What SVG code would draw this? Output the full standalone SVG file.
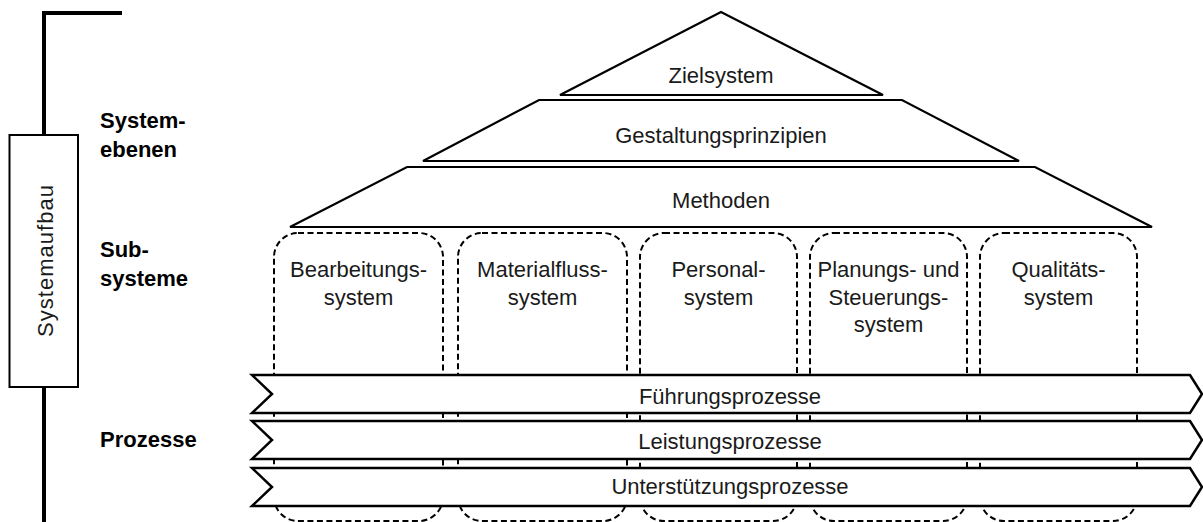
<svg xmlns="http://www.w3.org/2000/svg" width="1203" height="522" viewBox="0 0 1203 522">
  <style>
    .lbl { font-family: "Liberation Sans", Arial, sans-serif; font-size: 22px; fill: #1a1a1a; text-anchor: middle; }
    .side { font-family: "Liberation Sans", Arial, sans-serif; font-size: 22px; font-weight: bold; fill: #000; }
    .layer { fill: #fff; stroke: #000; stroke-width: 2.2; stroke-linejoin: miter; }
    .sub { fill: #fff; stroke: #000; stroke-width: 2; stroke-dasharray: 6 3.5; }
    .band { fill: #fff; stroke: #000; stroke-width: 2.5; stroke-linejoin: miter; }
    .bar { fill: none; stroke: #000; stroke-width: 4; }
  </style>
  <rect width="1203" height="522" fill="#fff"/>

  <!-- Systemebenen: pyramid layers -->
  <g id="zielsystem">
    <polygon class="layer" points="721,12 883,95 560,95"/>
    <text class="lbl" x="721" y="83">Zielsystem</text>
  </g>
  <g id="gestaltungsprinzipien">
    <polygon class="layer" points="539,100 902,100 1019,161 423,161"/>
    <text class="lbl" x="721" y="143">Gestaltungsprinzipien</text>
  </g>
  <g id="methoden">
    <polygon class="layer" points="407,167 1035,167 1152,227 290,227"/>
    <text class="lbl" x="721" y="208">Methoden</text>
  </g>

  <!-- Subsysteme: dashed columns running behind the process bands -->
  <g id="bearbeitungssystem">
    <rect class="sub" x="274" y="233" width="169" height="288" rx="24" ry="24"/>
    <text class="lbl" x="358.5" y="277">Bearbeitungs-</text>
    <text class="lbl" x="358.5" y="304.5">system</text>
  </g>
  <g id="materialflusssystem">
    <rect class="sub" x="458" y="233" width="169" height="288" rx="24" ry="24"/>
    <text class="lbl" x="542.5" y="277">Materialfluss-</text>
    <text class="lbl" x="542.5" y="304.5">system</text>
  </g>
  <g id="personalsystem">
    <rect class="sub" x="640" y="233" width="157" height="288" rx="24" ry="24"/>
    <text class="lbl" x="718.5" y="277">Personal-</text>
    <text class="lbl" x="718.5" y="304.5">system</text>
  </g>
  <g id="planungssystem">
    <rect class="sub" x="810" y="233" width="157" height="288" rx="24" ry="24"/>
    <text class="lbl" x="888.5" y="277">Planungs- und</text>
    <text class="lbl" x="888.5" y="304.5">Steuerungs-</text>
    <text class="lbl" x="888.5" y="332">system</text>
  </g>
  <g id="qualitaetssystem">
    <rect class="sub" x="980" y="233" width="157" height="288" rx="24" ry="24"/>
    <text class="lbl" x="1058.5" y="277">Qualitäts-</text>
    <text class="lbl" x="1058.5" y="304.5">system</text>
  </g>

  <!-- Prozesse: chevron bands -->
  <g id="fuehrungsprozesse">
    <polygon class="band" points="252,375 1190,375 1202,394 1190,413 252,413 272,394"/>
    <text class="lbl" x="730" y="404">Führungsprozesse</text>
  </g>
  <g id="leistungsprozesse">
    <polygon class="band" points="252,421 1190,421 1202,440 1190,459 252,459 272,440"/>
    <text class="lbl" x="730" y="449">Leistungsprozesse</text>
  </g>
  <g id="unterstuetzungsprozesse">
    <polygon class="band" points="252,468 1190,468 1202,487 1190,506 252,506 272,487"/>
    <text class="lbl" x="730" y="494">Unterstützungsprozesse</text>
  </g>

  <!-- Systemaufbau axis -->
  <g id="systemaufbau">
    <polyline class="bar" points="122,13 44,13 44,135"/>
    <line class="bar" x1="44" y1="387" x2="44" y2="522"/>
    <rect x="9.5" y="135" width="68.5" height="252" fill="#fff" stroke="#000" stroke-width="2"/>
    <text class="lbl" transform="translate(53,261) rotate(-90)" x="0" y="0" textLength="152" lengthAdjust="spacing">Systemaufbau</text>
  </g>

  <!-- Level labels -->
  <g id="labels">
    <text class="side" x="100" y="128">System-</text>
    <text class="side" x="100" y="157">ebenen</text>
    <text class="side" x="100" y="257">Sub-</text>
    <text class="side" x="100" y="286">systeme</text>
    <text class="side" x="100" y="447">Prozesse</text>
  </g>
</svg>
